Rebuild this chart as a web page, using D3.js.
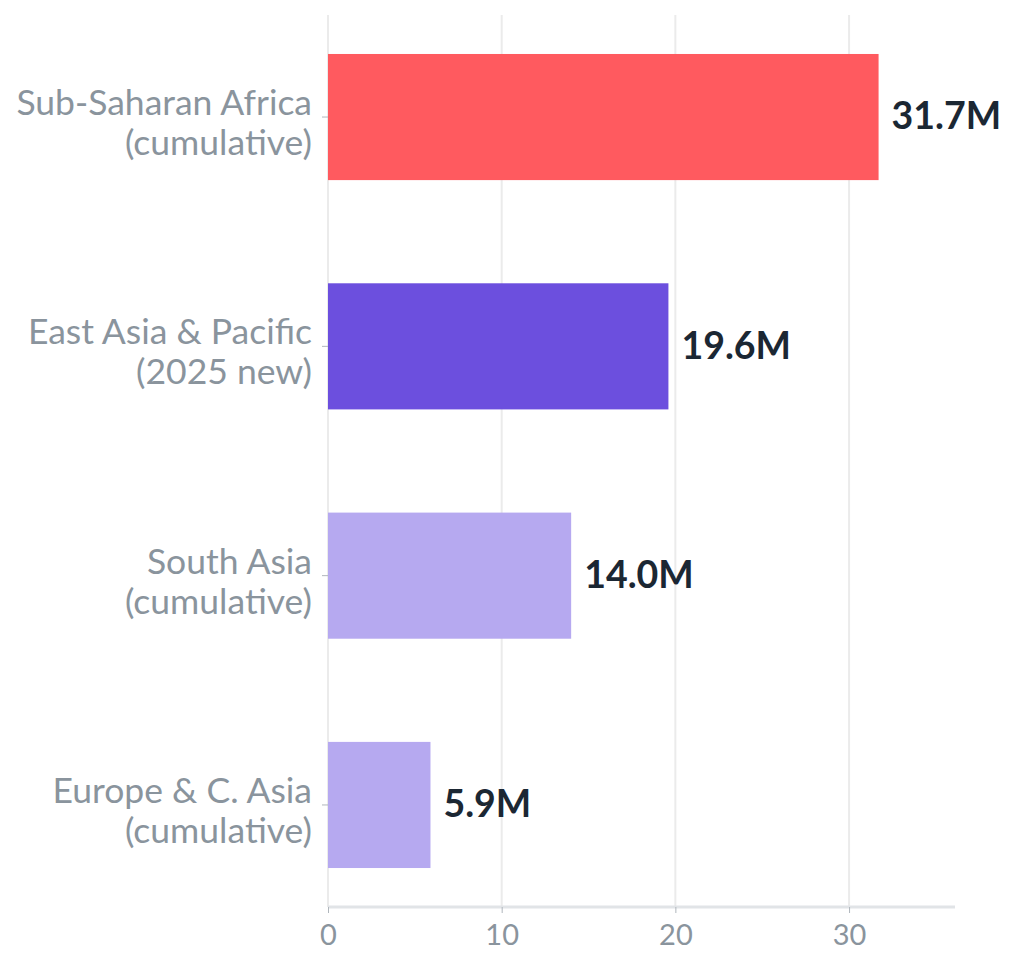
<!DOCTYPE html>
<html>
<head>
<meta charset="utf-8">
<script src="https://cdn.jsdelivr.net/npm/d3@7"></script>
<style>
  body { margin: 0; background: #fff; }
  svg text { font-family: Lato, "Noto Sans", sans-serif; }
</style>
</head>
<body>
<div id="chart"></div>
<script>
const regions = [
  ["Sub-Saharan Africa", "(cumulative)"],
  ["East Asia & Pacific", "(2025 new)"],
  ["South Asia", "(cumulative)"],
  ["Europe & C. Asia", "(cumulative)"]
];
const values = [31.7, 19.6, 14.0, 5.9];
const labels = ["31.7M", "19.6M", "14.0M", "5.9M"];
const colors = ["#ff5a5f", "#6c4fde", "#b6a9f0", "#b6a9f0"];
const ticks = [0, 10, 20, 30];

const margin = { top: 15, right: 61, bottom: 61, left: 328 };
const width = 1016 - margin.left - margin.right;
const height = 968 - margin.top - margin.bottom;

const svg = d3.select("#chart")
  .append("svg")
  .attr("width", 1016)
  .attr("height", 968);

const g = svg.append("g")
  .attr("transform", `translate(${margin.left},${margin.top})`);

const x = d3.scaleLinear().domain([0, 36.1]).range([0, width]);
const y = d3.scaleBand()
  .domain(d3.range(values.length))
  .range([0, height])
  .paddingInner(0.45)
  .paddingOuter(0.17);

// grid
g.selectAll("line.grid")
  .data(ticks)
  .enter()
  .append("line")
  .attr("class", "grid")
  .attr("x1", d => x(d))
  .attr("x2", d => x(d))
  .attr("y1", 0)
  .attr("y2", height)
  .style("stroke", "#ebebeb")
  .style("stroke-width", 2);

// x axis
const xAxis = g.append("g")
  .attr("transform", `translate(0,${height})`)
  .call(d3.axisBottom(x).tickValues(ticks).tickSize(6).tickPadding(11));
xAxis.select(".domain").attr("d", `M0,0H${width}`).style("stroke", "#e1e4e7").style("stroke-width", 3);
xAxis.selectAll(".tick line").style("stroke", "#b0b6bc");
xAxis.selectAll(".tick text")
  .style("font-size", "29px")
  .style("fill", "#8a949d");

// y axis
const yAxis = g.append("g")
  .call(d3.axisLeft(y).tickSize(6).tickPadding(10).tickFormat(""));
yAxis.select(".domain").remove();
yAxis.selectAll(".tick line").style("stroke", "#b0b6bc");
yAxis.selectAll(".tick").each(function(d) {
  const t = d3.select(this).append("text")
    .attr("x", -16)
    .attr("text-anchor", "end")
    .style("font-size", "35.5px")
    .style("fill", "#8a949d");
  regions[d].forEach((line, i) => {
    t.append("tspan")
      .attr("x", -16)
      .attr("y", i === 0 ? -2 : 38)
      .text(line);
  });
});

// bars
g.selectAll("rect.bar")
  .data(values)
  .enter()
  .append("rect")
  .attr("class", "bar")
  .attr("x", 0)
  .attr("y", (d, i) => y(i))
  .attr("width", d => x(d))
  .attr("height", y.bandwidth())
  .style("fill", (d, i) => colors[i]);

// value labels
g.selectAll("text.value")
  .data(values)
  .enter()
  .append("text")
  .attr("class", "value")
  .attr("x", d => x(d) + 13)
  .attr("y", (d, i) => y(i) + y.bandwidth() / 2)
  .attr("dy", "0.33em")
  .style("font-size", "37.5px")
  .style("font-weight", "bold")
  .style("fill", "#1b2733")
  .text((d, i) => labels[i]);
</script>
</body>
</html>
